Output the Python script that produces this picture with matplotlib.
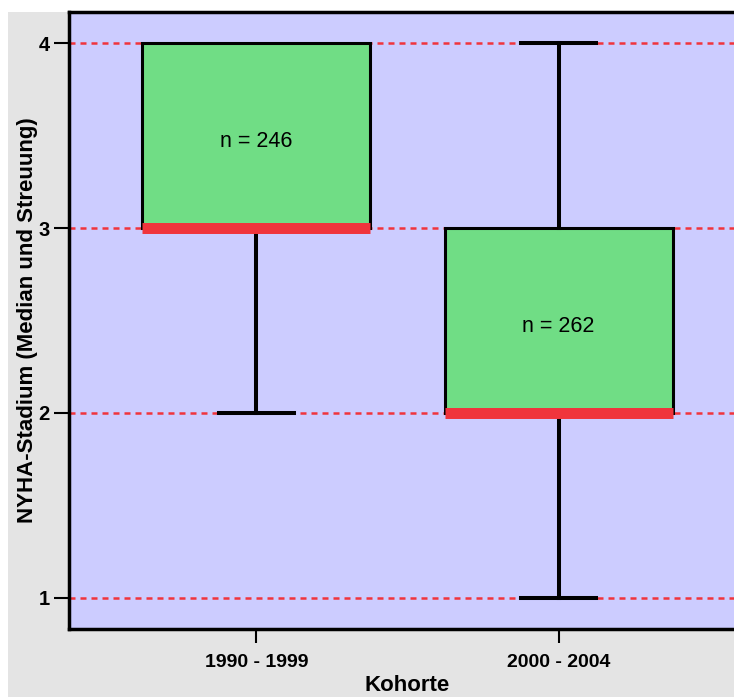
import matplotlib.pyplot as plt
from matplotlib.patches import Rectangle

# data
cohorts = ["1990 - 1999", "2000 - 2004"]
medians = [3, 2]
q1 = [3, 2]
q3 = [4, 3]
whis_lo = [2, 1]
whis_hi = [4, 4]
n_labels = ["n = 246", "n = 262"]
n_label_y = [3.47, 2.47]
yticks = [1, 2, 3, 4]

plt.rcParams['font.family'] = ['Liberation Sans', 'DejaVu Sans']

fig = plt.figure(figsize=(7.34, 6.97), dpi=100)
fig.patch.set_facecolor("white")
# gray panel behind the plot
fig.patches.append(Rectangle((8 / 734, 0), 1, 1 - 12 / 697, transform=fig.transFigure,
                             facecolor="#e4e4e4", edgecolor="none", zorder=-10))

ax = fig.add_axes([69 / 734, 68 / 697, 677 / 734, 617 / 697])
ax.set_facecolor("#ccccff")

stats = []
for i in range(len(cohorts)):
    stats.append({"med": medians[i], "q1": q1[i], "q3": q3[i],
                  "whislo": whis_lo[i], "whishi": whis_hi[i], "fliers": []})

bp = ax.bxp(stats, positions=[0, 1], widths=0.755, capwidths=0.25, patch_artist=True,
            showfliers=False,
            boxprops=dict(facecolor="#70dd85", edgecolor="black", linewidth=2.2),
            medianprops=dict(color="#f0343c", linewidth=7.9, solid_capstyle="butt"),
            whiskerprops=dict(color="black", linewidth=2.9),
            capprops=dict(color="black", linewidth=2.9))

# no whisker/cap where the whisker has zero length
for i in range(len(cohorts)):
    if whis_hi[i] == q3[i]:
        bp["caps"][2 * i + 1].set_visible(False)
    if whis_lo[i] == q1[i]:
        bp["caps"][2 * i].set_visible(False)

for i, txt in enumerate(n_labels):
    ax.text(i, n_label_y[i], txt, ha="center", va="center", fontsize=15.5)

ax.set_axisbelow(True)
ax.yaxis.grid(True, color="#f0343c", linewidth=1.8, linestyle=(0, (2.4, 2.0)))

ax.set_xlim(-0.62, 1.62)
ax.set_ylim(0.832, 4.168)
ax.set_yticks(yticks)
ax.set_yticklabels([str(v) for v in yticks], fontweight="bold", fontsize=14.5)
ax.set_xticks([0, 1])
ax.set_xticklabels(cohorts, fontweight="bold", fontsize=14)
ax.tick_params(axis="y", length=11, width=1.5, pad=3)
ax.tick_params(axis="x", length=10, width=1.5, pad=8)

for side in ["left", "top", "bottom"]:
    ax.spines[side].set_linewidth(2.5)
ax.spines["right"].set_visible(False)

ax.set_ylabel("NYHA-Stadium (Median und Streuung)", fontweight="bold", fontsize=16, labelpad=0)
ax.set_xlabel("Kohorte", fontweight="bold", fontsize=16, labelpad=3)

fig.savefig("out.png", dpi=100)
